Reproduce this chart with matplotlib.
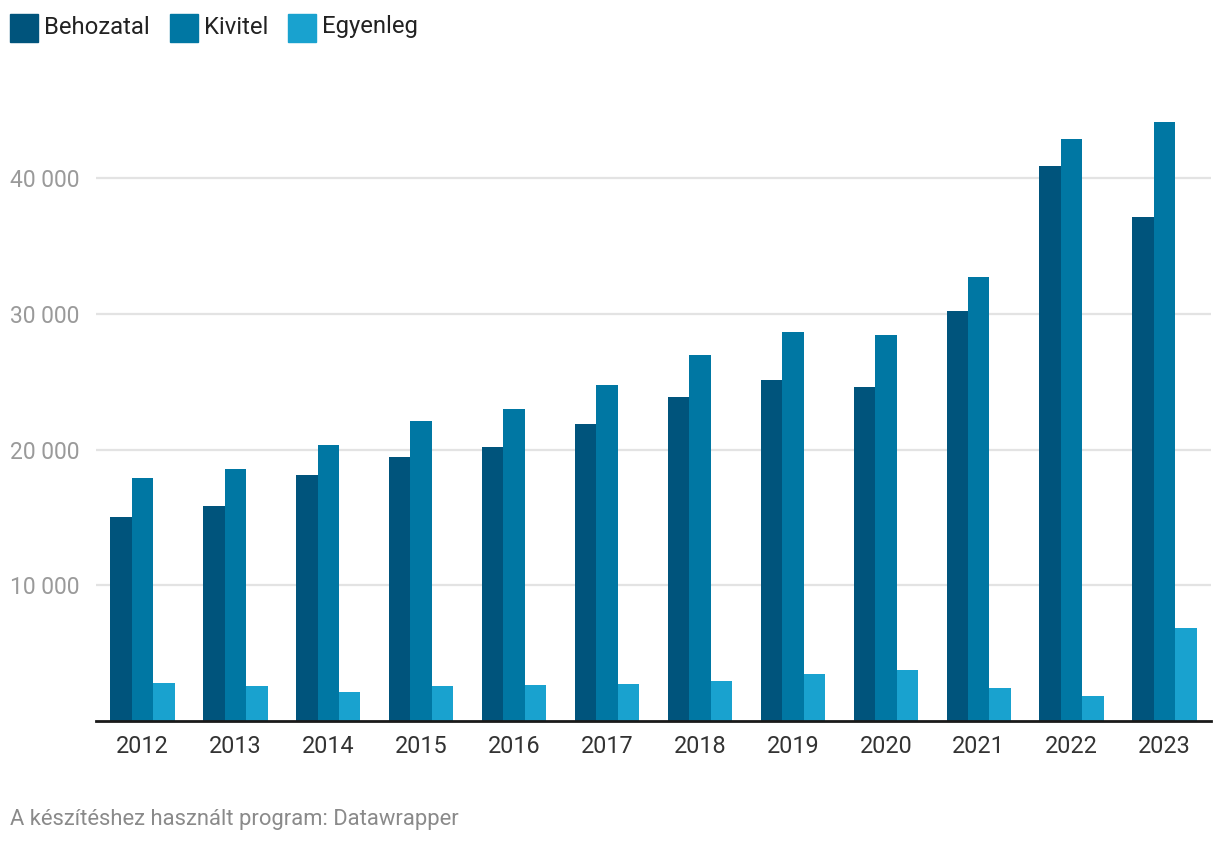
import numpy as np
import matplotlib
matplotlib.use("Agg")
import matplotlib.pyplot as plt
from matplotlib.patches import Rectangle

plt.rcParams["font.family"] = ["Roboto", "DejaVu Sans"]

years = ["2012", "2013", "2014", "2015", "2016", "2017",
         "2018", "2019", "2020", "2021", "2022", "2023"]
behozatal = [15000, 15850, 18120, 19450, 20180, 21880,
             23870, 25120, 24600, 30220, 40890, 37130]
kivitel = [17900, 18560, 20330, 22100, 22980, 24750,
           26960, 28660, 28430, 32710, 42870, 44140]
egyenleg = [2800, 2580, 2140, 2580, 2650, 2730,
            2950, 3460, 3760, 2430, 1860, 6850]

series = ["Behozatal", "Kivitel", "Egyenleg"]
colors = ["#00547c", "#0077a3", "#19a2cf"]
yticks = [10000, 20000, 30000, 40000]

fig = plt.figure(figsize=(12.2, 8.44), dpi=100)
ax = fig.add_axes([96 / 1220, 123 / 844, 1115 / 1220, 604 / 844])

x = np.arange(len(years))
w = 0.231
for k, (vals, col) in enumerate(zip([behozatal, kivitel, egyenleg], colors)):
    ax.bar(x + (k - 1) * w, vals, width=w, color=col, linewidth=0, zorder=3)

ax.set_xlim(-0.5, len(years) - 0.5)
ax.set_ylim(0, 44500)
ax.set_yticks(yticks)
ax.set_yticklabels([f"{v:,}".replace(",", " ") for v in yticks])
ax.set_xticks(x)
ax.set_xticklabels(years)
ax.grid(axis="y", color="#e3e3e3", linewidth=1.6, zorder=0)
for s in ["top", "right", "left"]:
    ax.spines[s].set_visible(False)
ax.spines["bottom"].set_color("#1a1a1a")
ax.spines["bottom"].set_linewidth(2)
ax.spines["bottom"].set_zorder(4)
ax.tick_params(axis="y", length=0, pad=12, labelsize=16.5, labelcolor="#9a9a9a")
ax.tick_params(axis="x", length=0, pad=10, labelsize=16.8, labelcolor="#333333")

# legend drawn manually at top-left
legend_x = [10, 170, 288]
for lx, name, col in zip(legend_x, series, colors):
    fig.patches.append(Rectangle((lx / 1220, 1 - 42 / 844), 28 / 1220, 28 / 844,
                                 transform=fig.transFigure, color=col))
    fig.text((lx + 34) / 1220, 1 - 27 / 844, name, fontsize=17.2,
             color="#222222", va="center", ha="left")

fig.text(10 / 1220, 1 - 819 / 844, "A készítéshez használt program: Datawrapper",
         fontsize=15.8, color="#8a8a8a", va="center", ha="left")

fig.savefig("out.png", dpi=100, facecolor="white")
